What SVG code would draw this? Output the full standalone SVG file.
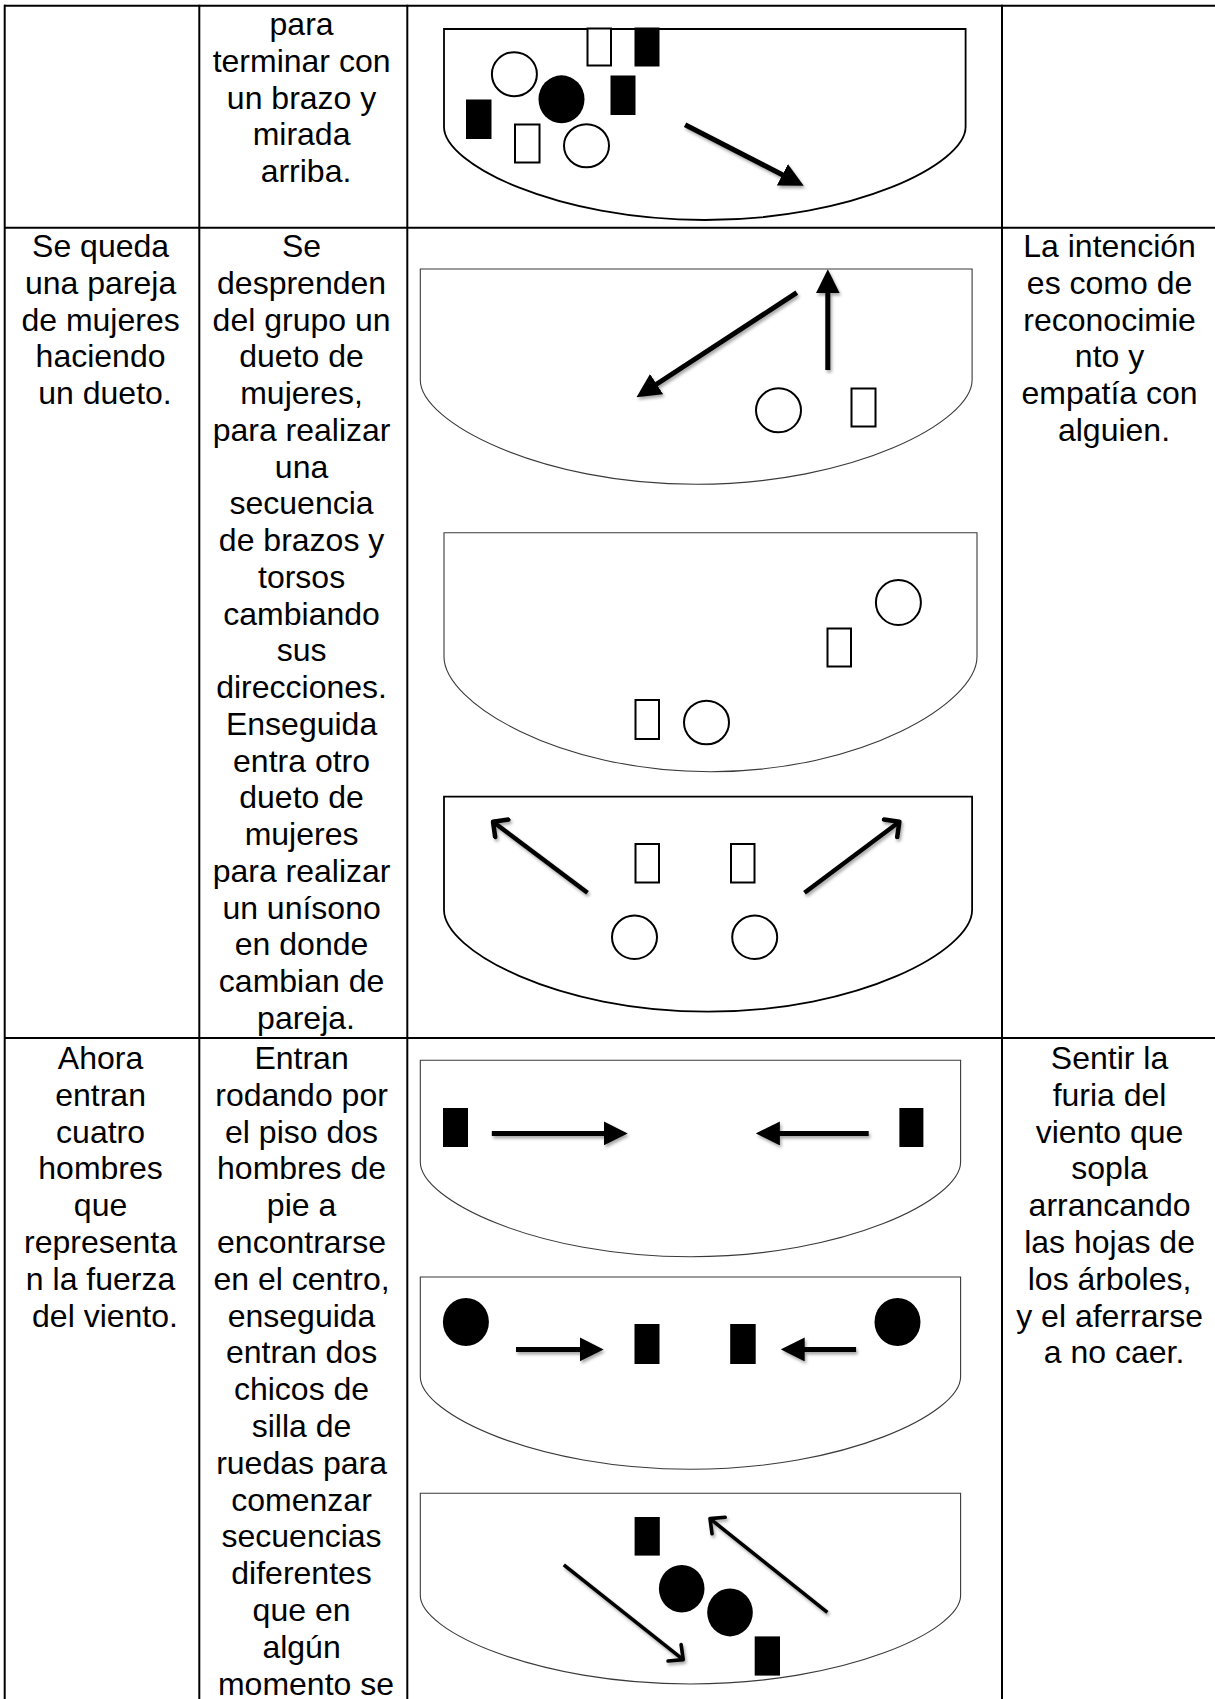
<svg xmlns="http://www.w3.org/2000/svg" width="1215" height="1699" viewBox="0 0 1215 1699">
<style>
.grid{stroke:#000;stroke-width:2;fill:none}
.t{font-family:"Liberation Sans",Arial,sans-serif;font-size:32px;fill:#000;text-anchor:middle}
.stg{fill:#fff;stroke:#000;stroke-width:1.8}
.stg-thin{fill:#fff;stroke:#3a3a3a;stroke-width:1.1}
.open{fill:#fff;stroke:#000;stroke-width:2}
.solid{fill:#000;stroke:none}
.arr{stroke:#000;stroke-width:5;fill:none;marker-end:url(#head)}
.chev{stroke:#000;stroke-width:4.5;fill:none;stroke-linecap:butt;marker-end:url(#vhead)}
.chev-thin{stroke:#000;stroke-width:3.6;fill:none;marker-end:url(#vhead2)}
</style>
<defs>
<marker id="head" markerUnits="userSpaceOnUse" viewBox="0 0 24 24" markerWidth="24" markerHeight="24" refX="18" refY="12" orient="auto">
<path d="M0,0 L24,12 L0,24 Z" fill="#000"/>
</marker>
<marker id="vhead" markerUnits="userSpaceOnUse" viewBox="0 0 18 26" markerWidth="18" markerHeight="26" refX="14" refY="13" orient="auto">
<path d="M3,2 L14,13 L3,24" fill="none" stroke="#000" stroke-width="4.5" stroke-linecap="round" stroke-linejoin="round"/>
</marker>
<marker id="vhead2" markerUnits="userSpaceOnUse" viewBox="0 0 18 26" markerWidth="18" markerHeight="26" refX="14" refY="13" orient="auto">
<path d="M3,2.5 L14,13 L3,23.5" fill="none" stroke="#000" stroke-width="3.6" stroke-linecap="round" stroke-linejoin="round"/>
</marker>
<filter id="shadow" filterUnits="userSpaceOnUse" x="0" y="0" width="1215" height="1699">
<feDropShadow dx="1.5" dy="2.5" stdDeviation="1.6" flood-color="#000" flood-opacity="0.35"/>
</filter>
</defs>
<rect width="1215" height="1699" fill="#fff"/>

<g id="table">
<line class="grid" x1="4" y1="5.7" x2="1215" y2="5.7"/>
<line class="grid" x1="4" y1="227.7" x2="1215" y2="227.7"/>
<line class="grid" x1="4" y1="1038" x2="1215" y2="1038"/>
<line class="grid" x1="4.7" y1="4.7" x2="4.7" y2="1699"/>
<line class="grid" x1="199.3" y1="4.7" x2="199.3" y2="1699"/>
<line class="grid" x1="407.3" y1="4.7" x2="407.3" y2="1699"/>
<line class="grid" x1="1002" y1="4.7" x2="1002" y2="1699"/>
</g>

<g id="row1-col2-text">
<text class="t" x="306" y="35">
<tspan x="306" dy="0">para</tspan>
<tspan x="306" dy="36.75">terminar con</tspan>
<tspan x="306" dy="36.75">un brazo y</tspan>
<tspan x="306" dy="36.75">mirada</tspan>
<tspan x="306" dy="36.75">arriba.</tspan>
</text>
</g>

<g id="row2-col1-text">
<text class="t" x="105" y="257">
<tspan x="105" dy="0">Se queda</tspan>
<tspan x="105" dy="36.75">una pareja</tspan>
<tspan x="105" dy="36.75">de mujeres</tspan>
<tspan x="105" dy="36.75">haciendo</tspan>
<tspan x="105" dy="36.75">un dueto.</tspan>
</text>
</g>

<g id="row2-col2-text">
<text class="t" x="306" y="257">
<tspan x="306" dy="0">Se</tspan>
<tspan x="306" dy="36.75">desprenden</tspan>
<tspan x="306" dy="36.75">del grupo un</tspan>
<tspan x="306" dy="36.75">dueto de</tspan>
<tspan x="306" dy="36.75">mujeres,</tspan>
<tspan x="306" dy="36.75">para realizar</tspan>
<tspan x="306" dy="36.75">una</tspan>
<tspan x="306" dy="36.75">secuencia</tspan>
<tspan x="306" dy="36.75">de brazos y</tspan>
<tspan x="306" dy="36.75">torsos</tspan>
<tspan x="306" dy="36.75">cambiando</tspan>
<tspan x="306" dy="36.75">sus</tspan>
<tspan x="306" dy="36.75">direcciones.</tspan>
<tspan x="306" dy="36.75">Enseguida</tspan>
<tspan x="306" dy="36.75">entra otro</tspan>
<tspan x="306" dy="36.75">dueto de</tspan>
<tspan x="306" dy="36.75">mujeres</tspan>
<tspan x="306" dy="36.75">para realizar</tspan>
<tspan x="306" dy="36.75">un unísono</tspan>
<tspan x="306" dy="36.75">en donde</tspan>
<tspan x="306" dy="36.75">cambian de</tspan>
<tspan x="306" dy="36.75">pareja.</tspan>
</text>
</g>

<g id="row2-col4-text">
<text class="t" x="1114" y="257">
<tspan x="1114" dy="0">La intención</tspan>
<tspan x="1114" dy="36.75">es como de</tspan>
<tspan x="1114" dy="36.75">reconocimie</tspan>
<tspan x="1114" dy="36.75">nto y</tspan>
<tspan x="1114" dy="36.75">empatía con</tspan>
<tspan x="1114" dy="36.75">alguien.</tspan>
</text>
</g>

<g id="row3-col1-text">
<text class="t" x="105" y="1069">
<tspan x="105" dy="0">Ahora</tspan>
<tspan x="105" dy="36.8">entran</tspan>
<tspan x="105" dy="36.8">cuatro</tspan>
<tspan x="105" dy="36.8">hombres</tspan>
<tspan x="105" dy="36.8">que</tspan>
<tspan x="105" dy="36.8">representa</tspan>
<tspan x="105" dy="36.8">n la fuerza</tspan>
<tspan x="105" dy="36.8">del viento.</tspan>
</text>
</g>

<g id="row3-col2-text">
<text class="t" x="306" y="1069">
<tspan x="306" dy="0">Entran</tspan>
<tspan x="306" dy="36.8">rodando por</tspan>
<tspan x="306" dy="36.8">el piso dos</tspan>
<tspan x="306" dy="36.8">hombres de</tspan>
<tspan x="306" dy="36.8">pie a</tspan>
<tspan x="306" dy="36.8">encontrarse</tspan>
<tspan x="306" dy="36.8">en el centro,</tspan>
<tspan x="306" dy="36.8">enseguida</tspan>
<tspan x="306" dy="36.8">entran dos</tspan>
<tspan x="306" dy="36.8">chicos de</tspan>
<tspan x="306" dy="36.8">silla de</tspan>
<tspan x="306" dy="36.8">ruedas para</tspan>
<tspan x="306" dy="36.8">comenzar</tspan>
<tspan x="306" dy="36.8">secuencias</tspan>
<tspan x="306" dy="36.8">diferentes</tspan>
<tspan x="306" dy="36.8">que en</tspan>
<tspan x="306" dy="36.8">algún</tspan>
<tspan x="306" dy="36.8">momento se</tspan>
</text>
</g>

<g id="row3-col4-text">
<text class="t" x="1114" y="1069">
<tspan x="1114" dy="0">Sentir la</tspan>
<tspan x="1114" dy="36.8">furia del</tspan>
<tspan x="1114" dy="36.8">viento que</tspan>
<tspan x="1114" dy="36.8">sopla</tspan>
<tspan x="1114" dy="36.8">arrancando</tspan>
<tspan x="1114" dy="36.8">las hojas de</tspan>
<tspan x="1114" dy="36.8">los árboles,</tspan>
<tspan x="1114" dy="36.8">y el aferrarse</tspan>
<tspan x="1114" dy="36.8">a no caer.</tspan>
</text>
</g>

<g id="stage-1">
<path class="stg" d="M444,29 H965.6 V127 C965.6,164.2 853.5,220 704.8,220 C556.1,220 444,164.2 444,127 Z"/>
<rect class="open" x="587.5" y="28.5" width="23.5" height="37"/>
<rect class="solid" x="634.5" y="27.5" width="25" height="39"/>
<ellipse class="open" cx="514.4" cy="74.2" rx="22.5" ry="22"/>
<ellipse class="solid" cx="561.5" cy="99.3" rx="23" ry="24"/>
<rect class="solid" x="610.5" y="75.5" width="25" height="39.5"/>
<rect class="solid" x="466" y="99.5" width="25.5" height="39.5"/>
<rect class="open" x="515" y="124.5" width="24.5" height="38"/>
<ellipse class="open" cx="586.5" cy="145.8" rx="22.5" ry="21.5"/>
</g>

<g id="stage-2">
<path class="stg-thin" d="M420.3,269 H972.1 V380 C972.1,421.7 853.5,484.3 696.2,484.3 C538.9,484.3 420.3,421.7 420.3,380 Z"/>
<ellipse class="open" cx="778.5" cy="410.3" rx="22.5" ry="22"/>
<rect class="open" x="851.5" y="388.5" width="24" height="38"/>
</g>

<g id="stage-3">
<path class="stg-thin" d="M444,532.7 H977 V656.7 C977,702.7 862.4,771.7 710.5,771.7 C558.6,771.7 444,702.7 444,656.7 Z"/>
<ellipse class="open" cx="898.4" cy="602.5" rx="22.5" ry="22.5"/>
<rect class="open" x="827.5" y="628.5" width="23.5" height="38"/>
<rect class="open" x="635.5" y="700" width="23.5" height="39"/>
<ellipse class="open" cx="706.5" cy="722.5" rx="22.5" ry="21.8"/>
</g>

<g id="stage-4">
<path class="stg" d="M444,796.7 H972.1 V910 C972.1,950.7 858.5,1011.7 708,1011.7 C557.5,1011.7 444,950.7 444,910 Z"/>
<rect class="open" x="635.5" y="844" width="23.5" height="38.5"/>
<rect class="open" x="731" y="844" width="23.5" height="38.5"/>
<ellipse class="open" cx="634.5" cy="937.3" rx="22.5" ry="21.7"/>
<ellipse class="open" cx="754.7" cy="937.3" rx="22.5" ry="21.7"/>
</g>

<g id="stage-5">
<path class="stg-thin" d="M420.3,1060.2 H960.6 V1162 C960.6,1199.9 844.5,1256.8 690.5,1256.8 C536.5,1256.8 420.3,1199.9 420.3,1162 Z"/>
<rect class="solid" x="443" y="1108" width="25" height="39"/>
<rect class="solid" x="899.4" y="1108" width="24" height="39"/>
</g>

<g id="stage-6">
<path class="stg-thin" d="M420.3,1277 H960.6 V1376.7 C960.6,1413.7 844.5,1469.3 690.5,1469.3 C536.5,1469.3 420.3,1413.7 420.3,1376.7 Z"/>
<ellipse class="solid" cx="465.9" cy="1322" rx="23" ry="24"/>
<ellipse class="solid" cx="897.5" cy="1322" rx="23" ry="24"/>
<rect class="solid" x="634.5" y="1324" width="25" height="40"/>
<rect class="solid" x="730.2" y="1324" width="25.5" height="40"/>
</g>

<g id="stage-7">
<path class="stg-thin" d="M420.3,1493.3 H960.6 V1595.6 C960.6,1631 844.5,1684 690.5,1684 C536.5,1684 420.3,1631 420.3,1595.6 Z"/>
<rect class="solid" x="634.6" y="1517" width="25.2" height="38.6"/>
<ellipse class="solid" cx="681.7" cy="1588.7" rx="22.8" ry="23.8"/>
<ellipse class="solid" cx="730" cy="1612.4" rx="22.8" ry="24"/>
<rect class="solid" x="754.7" y="1636.4" width="25.3" height="39.2"/>
</g>

<g id="connectors" filter="url(#shadow)">
<line class="arr" x1="685.1" y1="124.7" x2="798.4" y2="183"/>
<line class="arr" x1="827.8" y1="370" x2="827.8" y2="275.3"/>
<line class="arr" x1="796.8" y1="292.7" x2="641.5" y2="394"/>
<line class="chev" x1="587.5" y1="892.7" x2="493" y2="821.7"/>
<line class="chev" x1="804.5" y1="892.7" x2="899.4" y2="821.7"/>
<line class="arr" x1="491.8" y1="1133.4" x2="621.7" y2="1133.4"/>
<line class="arr" x1="868.7" y1="1133.4" x2="761.9" y2="1133.4"/>
<line class="arr" x1="516" y1="1349.4" x2="597.6" y2="1349.4"/>
<line class="arr" x1="856.1" y1="1349.4" x2="786.7" y2="1349.4"/>
<line class="chev-thin" x1="563.8" y1="1564.9" x2="683.2" y2="1659.6"/>
<line class="chev-thin" x1="827.4" y1="1612.4" x2="710" y2="1518.6"/>
</g>
</svg>
